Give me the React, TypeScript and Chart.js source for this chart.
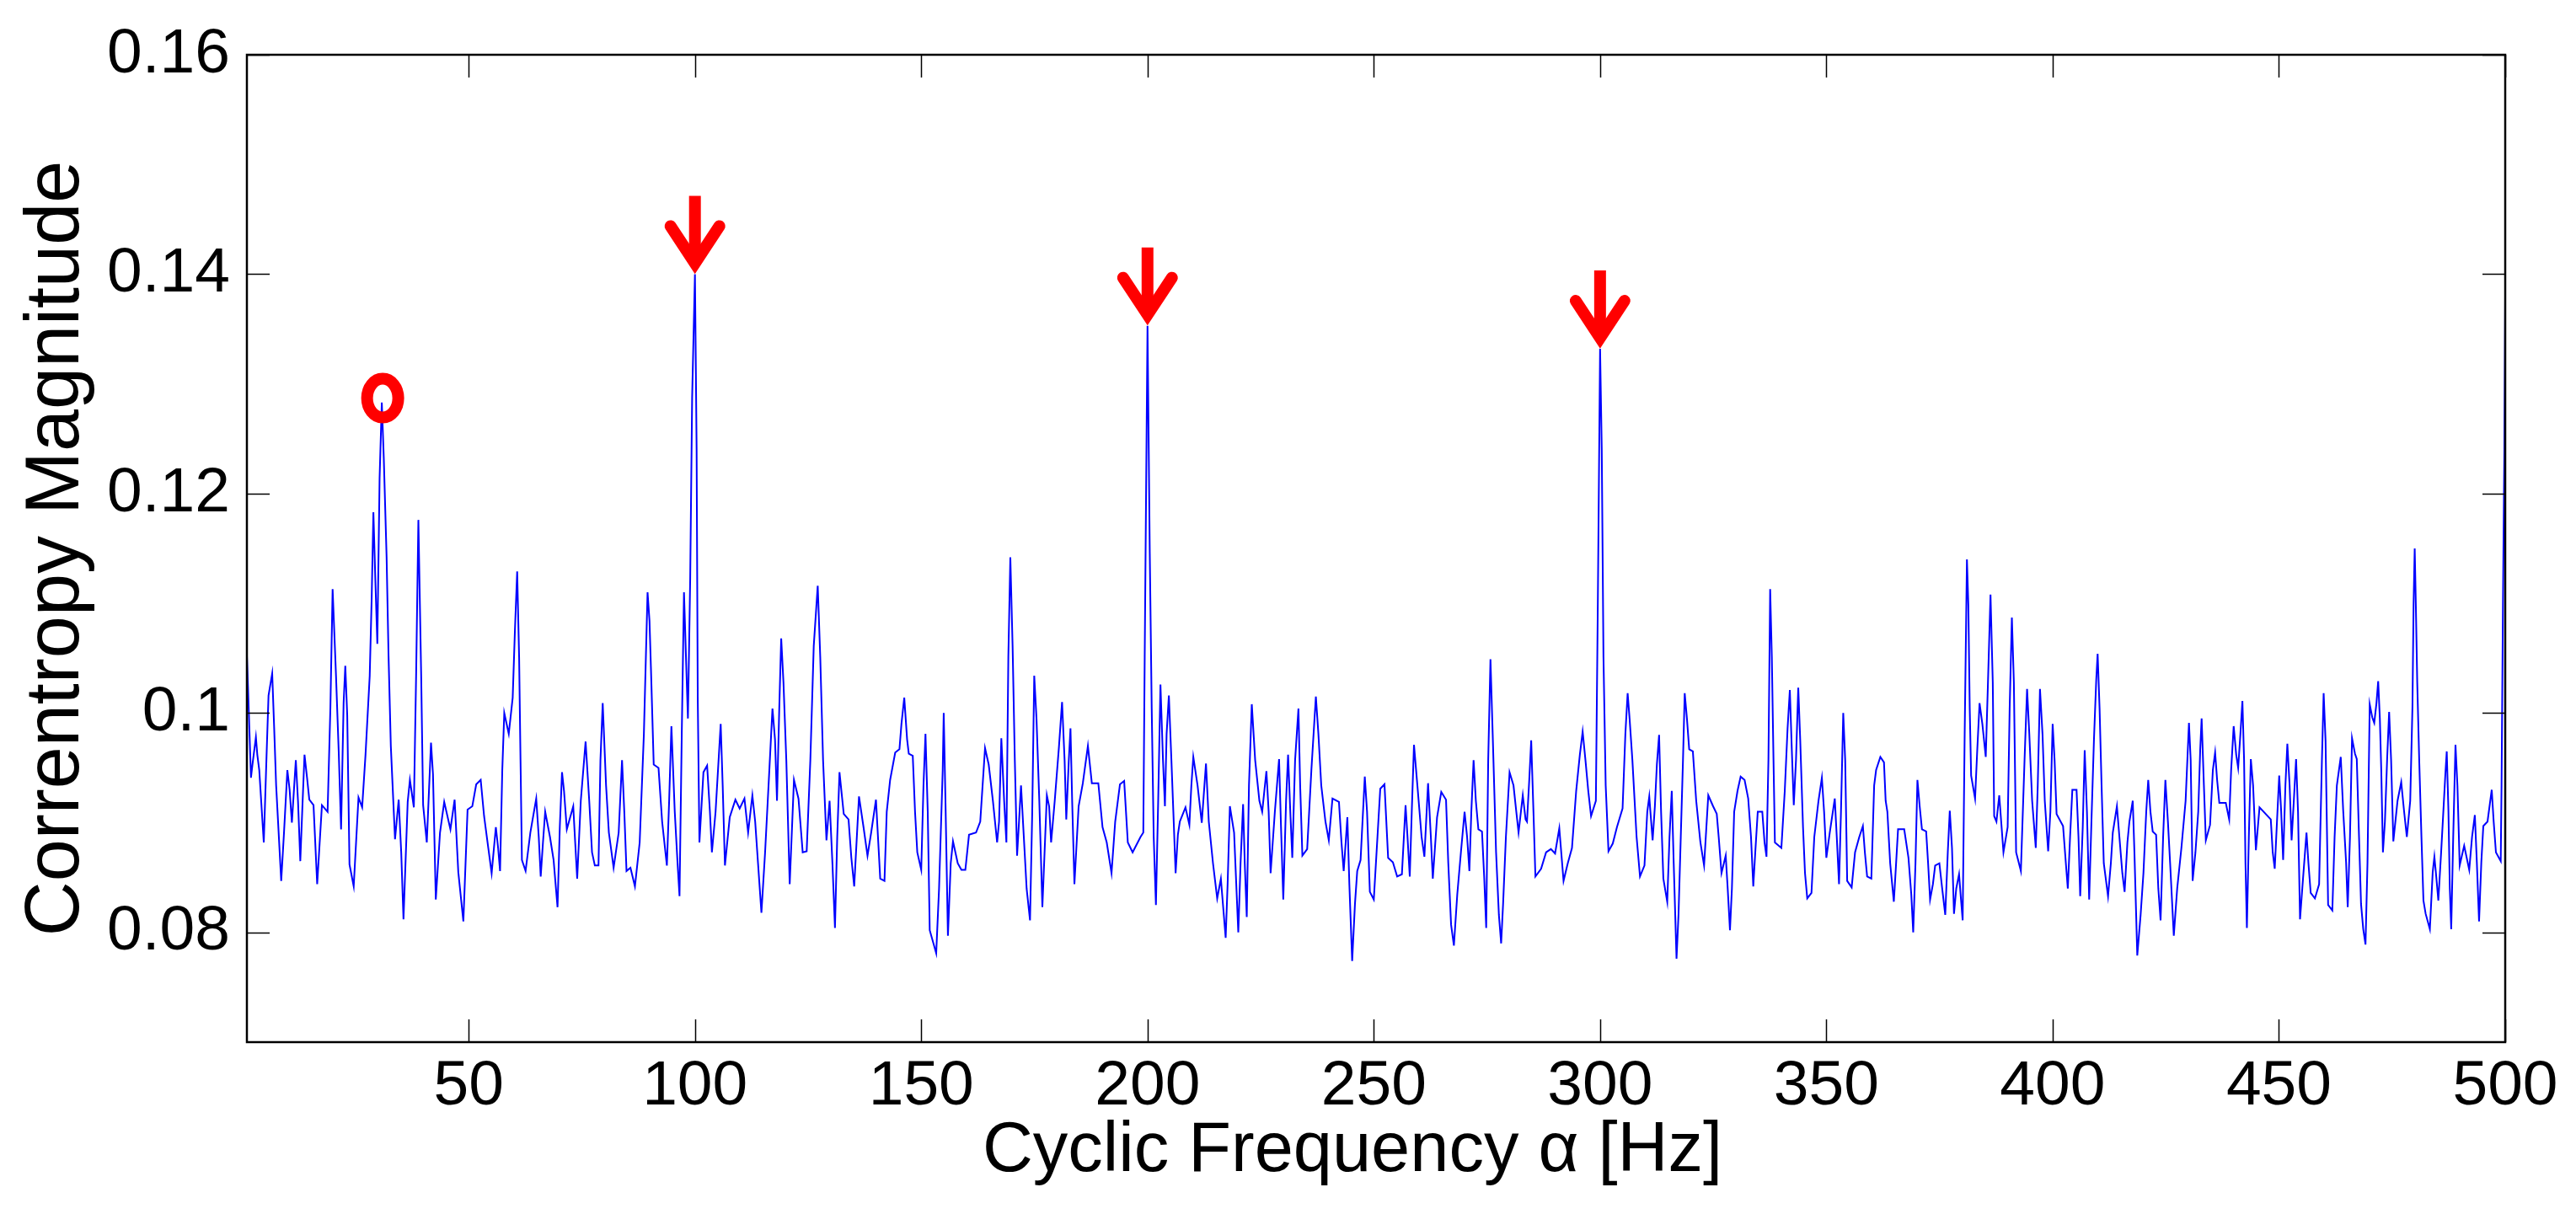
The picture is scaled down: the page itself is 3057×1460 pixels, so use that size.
import React, { useEffect, useRef } from "react";
import { Chart, registerables } from "chart.js";

Chart.register(...registerables);

// ---------------- data ----------------
const freqHz: number[] = [
  1.0, 1.25, 1.9, 2.2, 2.99, 3.3, 3.73, 4.73, 5.35, 5.78, 6.59, 7.02, 7.46, 8.58, 9.2, 9.94, 10.44, 10.94, 11.81, 12.3,
  12.8, 13.24, 13.73, 14.29, 14.79, 15.72, 16.53, 17.58, 18.83, 19.45, 19.94, 20.69, 21.31, 21.81, 22.37, 22.74, 23.17, 23.67, 24.6, 25.66,
  26.47, 27.21, 28.14, 28.58, 28.95, 29.39, 29.82, 30.32, 30.81, 31.25, 31.87, 32.3, 32.8, 33.73, 34.54, 35.1, 35.6, 36.53, 37.02, 37.89,
  38.39, 38.89, 39.51, 39.94, 40.75, 41.68, 42.12, 42.74, 43.67, 44.6, 45.97, 46.9, 47.71, 48.83, 49.76,
  50.81, 51.67, 52.66, 53.41, 54.34, 55.08, 56.01, 56.51, 56.94, 57.43, 57.87, 58.86, 59.73, 60.22, 60.72, 61.15, 61.46, 61.77, 62.58, 63.63,
  64.93, 65.49, 65.92, 66.42, 66.91, 67.97, 68.77, 69.21, 69.64, 70.14, 70.63, 71.07, 71.69, 73.11, 73.54, 73.98, 74.78, 75.84, 76.64, 77.26,
  77.88, 78.69, 79.12, 79.62, 80.36, 80.98, 82.03, 83.15, 83.89, 84.39, 84.88, 85.75, 86.74, 87.79, 88.72, 89.53, 89.96, 90.27, 90.89, 91.95,
  92.75, 93.8, 94.3, 94.8, 95.54, 96.16, 96.59, 97.09, 97.58, 98.02, 98.45, 98.95, 99.38, 100.0, 100.37, 100.62, 100.99,
  101.88, 102.69, 103.31, 103.75, 104.56, 105.69, 106.13, 106.63, 107.69, 108.94, 109.88, 110.94, 111.75, 112.69, 113.31, 113.94, 114.69, 115.5, 116.44, 117.13,
  117.69, 118.13, 118.63, 119.06, 119.56, 120.19, 120.94, 121.88, 122.88, 123.81, 124.69, 125.5, 126.25, 127.13, 127.69, 128.31, 129.06, 129.75, 130.38, 130.94,
  131.44, 131.94, 132.88, 133.94, 134.56, 135.19, 136.25, 137.25, 138.13, 138.94, 140.0, 140.94, 141.88, 142.38, 143.13, 144.25, 145.19, 145.63, 146.25, 146.88,
  147.25, 148.13, 148.63, 149.13, 150.0, 150.5, 150.94, 151.44, 151.88, 153.31, 153.94, 154.75,
  154.97, 155.4, 155.9, 156.52, 157.02, 158.07, 158.88, 159.75, 160.56, 162.11, 163.04, 164.1, 164.91, 165.84, 166.77, 167.2, 167.7, 168.32, 168.82, 169.25,
  169.69, 170.19, 170.68, 171.18, 171.61, 172.05, 172.67, 173.29, 174.04, 174.53, 174.97, 175.47, 176.09, 176.77, 177.76, 178.26, 178.7, 179.5, 180.43, 181.12,
  181.68, 182.05, 182.61, 182.98, 183.35, 183.85, 184.78, 185.71, 186.83, 187.7, 189.13, 190.06, 190.99, 192.05, 192.86, 193.91, 194.84, 195.65, 196.71, 198.45,
  199.07, 199.38, 200.0, 200.5, 200.93, 201.37, 201.86, 202.36, 202.86, 203.42, 203.85, 204.22, 204.72, 205.28, 205.71, 206.21, 206.71,
  207.14, 208.39, 209.25, 209.69, 210.12, 211.06, 211.99, 212.92, 213.54, 214.47, 215.4, 216.21, 217.27, 217.7, 218.2, 219.13, 220.06, 220.56, 221.12, 221.49,
  221.93, 222.42, 223.04, 223.79, 224.72, 225.34, 226.27, 226.77, 227.2, 228.14, 229.07, 229.5, 230.0, 230.62, 231.06, 231.55, 231.99, 232.61, 233.35, 233.73,
  234.22, 235.28, 236.21, 237.2, 237.76, 238.39, 239.32, 240.06, 240.87, 242.3, 242.86, 243.35, 243.79, 244.16, 244.6, 245.22, 245.84, 246.34, 247.08, 248.01,
  248.51, 249.13, 250.0, 250.81, 251.43, 252.36, 253.17, 254.22, 255.16, 256.21, 257.02, 257.45, 257.95, 258.39, 258.88,
  259.63, 260.56, 261.18, 261.99, 262.61, 263.04, 263.98, 264.91, 265.96, 266.46, 267.08, 267.7, 268.45, 269.25, 270.06, 270.62, 271.12, 271.55, 272.05, 272.55,
  273.11, 273.91, 274.41, 274.84, 275.28, 275.78, 276.27, 277.02, 277.64, 278.14, 278.57, 279.19, 280.0, 280.87, 281.49, 281.99, 282.92, 283.54, 283.85, 284.35,
  284.78, 285.28, 285.71, 286.96, 288.07, 289.13, 290.06, 290.99, 291.93, 292.86, 293.79, 294.72, 295.53, 296.15, 296.77, 297.39, 298.01, 299.07, 299.5, 300.0,
  300.37, 300.75, 301.24, 301.86, 302.8, 303.73, 304.97, 305.59, 306.09, 306.52, 307.14, 308.07, 308.82, 309.81, 310.43, 310.87,
  311.12, 311.61, 312.11, 312.55, 313.04, 313.48, 313.98, 314.84, 315.34, 315.84, 316.27, 316.89, 317.33, 317.83, 318.32, 318.7, 319.19, 319.69, 320.5, 321.24,
  322.17, 322.98, 323.91, 324.97, 325.78, 326.21, 326.83, 327.76, 328.2, 328.7, 329.13, 329.63, 330.37, 331.06, 331.93, 332.73, 333.35, 333.85, 334.29, 334.84,
  335.84, 336.34, 336.77, 337.2, 337.58, 337.95, 338.32, 338.63, 340.06, 340.81, 341.43, 341.93, 342.36, 342.8, 343.29, 343.79, 344.22, 344.84, 345.28, 345.78,
  346.71, 347.33, 348.26, 349.01, 349.5, 350.0, 350.75, 351.86, 352.3, 352.8, 353.23, 353.73, 354.16, 354.6, 355.59, 356.34, 357.27, 358.07, 358.51, 359.01,
  359.94, 360.56, 360.99, 361.93, 362.73,
  363.1, 363.48, 364.1, 364.91, 365.34, 365.84, 367.2, 368.14, 368.76, 369.19, 369.69, 370.12, 370.62, 371.12, 372.05, 372.48, 372.92, 373.54, 374.04, 374.97,
  375.59, 376.27, 376.83, 377.27, 377.76, 378.2, 378.7, 379.32, 379.75, 380.12, 380.56, 381.06, 381.37, 381.68, 381.99, 382.86, 383.35, 383.85, 384.47, 385.22,
  385.71, 386.27, 386.77, 387.08, 387.58, 388.2, 388.63, 389.13, 390.06, 390.5, 390.99, 391.43, 391.93, 392.98, 393.79, 394.35, 394.84, 395.47, 396.27, 396.71,
  397.2, 397.76, 398.26, 399.01, 399.5, 400.0, 400.43, 400.87, 402.3, 402.92, 403.35, 403.85, 404.35, 405.28, 405.71, 406.09, 406.65, 407.08, 407.58, 408.07,
  408.57, 409.13, 409.63, 409.94, 410.37, 410.81, 411.3, 412.24, 412.86, 413.29, 414.2,
  414.75, 415.4, 415.9, 416.52, 416.96, 417.7, 418.07, 418.7, 419.44, 420.06, 420.68, 421.12, 421.61, 422.11, 422.86, 423.35, 423.85, 424.41, 424.91, 425.47,
  425.96, 426.77, 427.52, 428.45, 429.38, 430.12, 430.5, 430.93, 431.55, 432.17, 432.61, 432.92, 433.42, 433.85, 434.78, 435.4, 435.9, 436.34, 436.83, 438.26,
  439.01, 439.44, 440.0, 440.56, 440.99, 441.49, 441.93, 442.3, 442.61, 442.92, 443.35, 443.79, 444.29, 444.91, 445.71, 448.2, 448.63, 449.07, 449.57, 450.06,
  450.5, 450.93, 451.43, 451.86, 452.36, 452.8, 453.29, 453.79, 454.22, 454.66, 455.16, 456.09, 456.52, 457.02, 457.95, 458.88, 459.5, 459.88, 460.3, 460.87,
  461.8, 462.3, 462.8, 463.66, 464.2, 464.84, 465.2, 465.7, 466.15, 466.8, 467.2, 467.7, 468.14, 468.63, 469.13, 469.57, 470.06, 470.62, 471.06, 471.55,
  471.93, 472.3, 472.61, 472.98, 473.42, 473.91, 474.35, 474.78, 475.28, 476.21, 477.02, 477.64, 478.26, 479.01, 479.5, 479.75, 480.0, 480.25, 480.56, 480.99,
  481.49, 481.93, 482.42, 483.35, 483.98, 484.35, 484.78, 485.22, 485.84, 486.34, 486.77, 487.08, 487.45, 487.76, 488.07, 488.51, 489.01, 489.44, 489.94, 490.93,
  492.05, 492.67, 493.29, 493.73, 494.22, 494.72, 495.16, 496.09, 497.02, 497.45, 497.95, 499.01, 499.19, 499.5, 499.81, 500.0, 500.4,
];

const magnitude: number[] = [
  0.1052, 0.1023, 0.0941, 0.0952, 0.0978, 0.0962, 0.0948, 0.0882, 0.0962, 0.1016, 0.1036, 0.0987, 0.0934, 0.0847, 0.0891, 0.0948, 0.093, 0.09, 0.0957, 0.0919,
  0.0865, 0.0912, 0.0962, 0.0941, 0.0921, 0.0916, 0.0844, 0.0916, 0.091, 0.1005, 0.1113, 0.1034, 0.0962, 0.0894, 0.1009, 0.1043, 0.0998, 0.0862, 0.0842, 0.0923,
  0.0914, 0.0962, 0.1034, 0.1106, 0.1183, 0.112, 0.1063, 0.1214, 0.1283, 0.1232, 0.1142, 0.1052, 0.097, 0.0885, 0.0921, 0.0873, 0.0812, 0.0919, 0.0939, 0.0914,
  0.1034, 0.1176, 0.1034, 0.0916, 0.0882, 0.0973, 0.0944, 0.083, 0.0891, 0.0919, 0.0894, 0.0921, 0.0855, 0.081, 0.0912,
  0.0915, 0.0935, 0.0939, 0.0906, 0.0877, 0.0854, 0.0896, 0.0877, 0.0856, 0.0948, 0.1, 0.0981, 0.1014, 0.1075, 0.1129, 0.1051, 0.0957, 0.0866, 0.0856, 0.0891,
  0.0922, 0.0887, 0.0851, 0.0882, 0.091, 0.0887, 0.0866, 0.0844, 0.0823, 0.0896, 0.0946, 0.0929, 0.0894, 0.0915, 0.0882, 0.0849, 0.092, 0.0974, 0.092, 0.0873,
  0.0861, 0.0861, 0.0957, 0.1009, 0.0934, 0.0891, 0.0859, 0.0891, 0.0957, 0.091, 0.0856, 0.0859, 0.0842, 0.0882, 0.0981, 0.111, 0.1084, 0.1042, 0.0953, 0.095,
  0.0901, 0.0861, 0.092, 0.0988, 0.091, 0.0863, 0.0833, 0.0981, 0.111, 0.1051, 0.0995, 0.1122, 0.1287, 0.14, 0.124, 0.1014, 0.0882,
  0.0946, 0.0952, 0.091, 0.0873, 0.091, 0.099, 0.0934, 0.0861, 0.0905, 0.0921, 0.0913, 0.0922, 0.0891, 0.0925, 0.0901, 0.0863, 0.0818, 0.0873, 0.0948, 0.1004,
  0.0976, 0.092, 0.1004, 0.1068, 0.1028, 0.0957, 0.0844, 0.0939, 0.0922, 0.0873, 0.0874, 0.0957, 0.1061, 0.1116, 0.1051, 0.0957, 0.0884, 0.092, 0.0863, 0.0804,
  0.0887, 0.0946, 0.0908, 0.0903, 0.0868, 0.0842, 0.0924, 0.0896, 0.087, 0.0891, 0.0921, 0.0849, 0.0847, 0.091, 0.0939, 0.0964, 0.0967, 0.099, 0.1014, 0.0976,
  0.0963, 0.0961, 0.091, 0.0873, 0.0857, 0.0934, 0.0981, 0.091, 0.0802, 0.0781, 0.084, 0.0948,
  0.1, 0.091, 0.0797, 0.0863, 0.0883, 0.0863, 0.0857, 0.0857, 0.0889, 0.0891, 0.0901, 0.0968, 0.0953, 0.092, 0.0882, 0.0901, 0.0977, 0.092, 0.0882, 0.1051,
  0.1142, 0.1061, 0.0957, 0.087, 0.0901, 0.0934, 0.0887, 0.084, 0.0811, 0.091, 0.1034, 0.0995, 0.092, 0.0823, 0.0925, 0.0915, 0.0882, 0.092, 0.0969, 0.101,
  0.0957, 0.0903, 0.0957, 0.0986, 0.092, 0.0844, 0.0915, 0.0936, 0.097, 0.0936, 0.0936, 0.0896, 0.0882, 0.0854, 0.0901, 0.0935, 0.0938, 0.0882, 0.0873, 0.0887,
  0.0891, 0.1051, 0.1353, 0.1146, 0.1004, 0.0887, 0.0825, 0.092, 0.1026, 0.0957, 0.0915, 0.0981, 0.1016, 0.0957, 0.091, 0.0854, 0.0889,
  0.0901, 0.0914, 0.0898, 0.0934, 0.096, 0.0934, 0.09, 0.0954, 0.0901, 0.0863, 0.0831, 0.0849, 0.0795, 0.0844, 0.0915, 0.0891, 0.08, 0.0863, 0.0917, 0.0863,
  0.0814, 0.0934, 0.1008, 0.0957, 0.092, 0.091, 0.0947, 0.091, 0.0854, 0.091, 0.0958, 0.0896, 0.083, 0.092, 0.0962, 0.091, 0.0868, 0.0957, 0.1004, 0.0934,
  0.087, 0.0876, 0.0948, 0.1015, 0.0981, 0.0934, 0.0901, 0.0884, 0.0922, 0.0919, 0.0882, 0.0856, 0.0882, 0.0905, 0.0844, 0.0774, 0.0826, 0.0856, 0.0866, 0.0942,
  0.091, 0.0837, 0.083, 0.0887, 0.0931, 0.0935, 0.0868, 0.0864, 0.0851, 0.0853, 0.0916, 0.0887, 0.0851, 0.091, 0.0971,
  0.0934, 0.0887, 0.0869, 0.0936, 0.0887, 0.0849, 0.0905, 0.0928, 0.0921, 0.0863, 0.0807, 0.0788, 0.0835, 0.0873, 0.091, 0.0887, 0.0856, 0.091, 0.0957, 0.092,
  0.0894, 0.0892, 0.0849, 0.0804, 0.0957, 0.1049, 0.0981, 0.0873, 0.0816, 0.079, 0.0826, 0.0887, 0.0946, 0.0934, 0.091, 0.0891, 0.0925, 0.0903, 0.0901, 0.0939,
  0.0975, 0.091, 0.0851, 0.0858, 0.0873, 0.0876, 0.0872, 0.0895, 0.0847, 0.0863, 0.0877, 0.0929, 0.0962, 0.0983, 0.0957, 0.0929, 0.0906, 0.092, 0.1099, 0.1332,
  0.124, 0.1051, 0.0934, 0.0874, 0.0881, 0.0896, 0.0913, 0.0981, 0.1018, 0.0995, 0.0957, 0.0887, 0.0851, 0.0861, 0.091, 0.0924,
  0.091, 0.0884, 0.0915, 0.0953, 0.098, 0.091, 0.0849, 0.0828, 0.0887, 0.0929, 0.0863, 0.0776, 0.0816, 0.0887, 0.0957, 0.1018, 0.0995, 0.0967, 0.0965, 0.092,
  0.0882, 0.0861, 0.0925, 0.0915, 0.0908, 0.0887, 0.0854, 0.087, 0.084, 0.0802, 0.084, 0.091, 0.0929, 0.0942, 0.0939, 0.0922, 0.0887, 0.0842, 0.0873, 0.091,
  0.091, 0.0882, 0.0869, 0.0957, 0.1113, 0.1051, 0.0957, 0.0882, 0.0877, 0.0929, 0.0986, 0.1021, 0.0967, 0.0916, 0.0957, 0.1023, 0.0976, 0.0896, 0.0854, 0.0831,
  0.0836, 0.0887, 0.092, 0.0941, 0.091, 0.0868, 0.0891, 0.0922, 0.0887, 0.0844, 0.091, 0.1, 0.0957, 0.0847, 0.0841, 0.0873, 0.0887, 0.0897, 0.0873, 0.0851,
  0.0849, 0.0934, 0.0948, 0.096, 0.0955,
  0.092, 0.091, 0.0863, 0.0828, 0.0858, 0.0894, 0.0894, 0.0868, 0.0835, 0.08, 0.0863, 0.0939, 0.0915, 0.0894, 0.0892, 0.0863, 0.083, 0.0844, 0.0861, 0.0863,
  0.084, 0.0816, 0.0873, 0.0911, 0.0877, 0.0817, 0.084, 0.0853, 0.083, 0.0811, 0.0981, 0.114, 0.1099, 0.1004, 0.0943, 0.0922, 0.0967, 0.1009, 0.099, 0.096,
  0.1028, 0.1108, 0.1028, 0.0906, 0.0901, 0.0925, 0.0901, 0.0873, 0.0896, 0.1004, 0.1087, 0.1028, 0.0873, 0.0856, 0.0957, 0.1022, 0.0981, 0.092, 0.0877, 0.0934,
  0.1022, 0.0981, 0.092, 0.0874, 0.091, 0.099, 0.0957, 0.0908, 0.0897, 0.0863, 0.084, 0.0887, 0.093, 0.093, 0.0887, 0.0833, 0.0896, 0.0966, 0.091, 0.083,
  0.0901, 0.0976, 0.103, 0.1054, 0.1004, 0.0934, 0.0863, 0.0833, 0.0863, 0.0891, 0.0915,
  0.0887, 0.0854, 0.0837, 0.0882, 0.0901, 0.092, 0.0873, 0.0779, 0.0816, 0.0854, 0.091, 0.0939, 0.091, 0.0892, 0.0889, 0.084, 0.0811, 0.0887, 0.0939, 0.0901,
  0.0863, 0.0797, 0.084, 0.0877, 0.092, 0.0991, 0.0957, 0.0847, 0.0873, 0.091, 0.0967, 0.0995, 0.0934, 0.0884, 0.0898, 0.0948, 0.0964, 0.0939, 0.0918, 0.0918,
  0.0903, 0.0948, 0.0988, 0.0962, 0.095, 0.0981, 0.1011, 0.0957, 0.0863, 0.0804, 0.0887, 0.0958, 0.0934, 0.0875, 0.0914, 0.0903, 0.0873, 0.0858, 0.0901, 0.0943,
  0.091, 0.0866, 0.0934, 0.0972, 0.0934, 0.0884, 0.092, 0.0958, 0.091, 0.0812, 0.084, 0.0891, 0.0863, 0.0836, 0.0831, 0.0844, 0.0957, 0.1018, 0.0975, 0.0825,
  0.082, 0.0887, 0.0934, 0.096, 0.0911, 0.0864, 0.0823, 0.0887, 0.0977, 0.0963, 0.0958, 0.0887, 0.0826, 0.0803, 0.0789, 0.0864, 0.1008, 0.0996, 0.0991, 0.1009,
  0.1029, 0.0995, 0.0948, 0.0873, 0.0901, 0.0958, 0.1001, 0.0958, 0.0883, 0.092, 0.0937, 0.0911, 0.0887, 0.092, 0.1005, 0.1099, 0.115, 0.1099, 0.1028, 0.0958,
  0.0887, 0.0829, 0.0817, 0.0803, 0.0855, 0.0869, 0.085, 0.0829, 0.0873, 0.0911, 0.0944, 0.0965, 0.0911, 0.084, 0.0803, 0.0887, 0.0971, 0.0934, 0.0861, 0.0879,
  0.0857, 0.0887, 0.0907, 0.0864, 0.081, 0.0864, 0.0897, 0.0901, 0.093, 0.0901, 0.0873, 0.0865, 0.0934, 0.1099, 0.1239, 0.138, 0.1134,
];

const xTickValues: number[] = [50, 100, 150, 200, 250, 300, 350, 400, 450, 500];
const xTickLabels: string[] = ["50", "100", "150", "200", "250", "300", "350", "400", "450", "500"];
const yTickValues: number[] = [0.08, 0.1, 0.12, 0.14, 0.16];
const yTickLabels: string[] = ["0.08", "0.1", "0.12", "0.14", "0.16"];

// red markers: arrows over the harmonic peaks, a circle over the first peak
const arrowFreqs: number[] = [100, 200, 300];
const arrowMags: number[] = [0.14, 0.1353, 0.1332];
const circleFreqs: number[] = [31.0];
const circleMags: number[] = [0.1287];

const X_TITLE = "Cyclic Frequency \u03B1 [Hz]";
const Y_TITLE = "Correntropy Magnitude";

// ---------------- layout constants ----------------
const W = 3057;
const H = 1460;
const PLOT_LEFT = 293;
const PLOT_RIGHT = 2973;
const PLOT_TOP = 54;
const PLOT_BOTTOM = 1237;
const FONT = "'Liberation Sans', Arial, Helvetica, sans-serif";
const TICK_LEN = 27;
const X_TITLE_SHIFT = -28; // MATLAB label sits slightly left of the axes centre

const markPlugin = {
  id: "markPlugin",
  afterDatasetsDraw(chart: any) {
    const { ctx, scales } = chart;
    const xs = scales.x;
    const ys = scales.y;
    ctx.save();
    ctx.strokeStyle = "#FF0000";
    ctx.fillStyle = "#FF0000";
    arrowFreqs.forEach((f, i) => {
      const px = xs.getPixelForValue(f);
      const py = ys.getPixelForValue(arrowMags[i]);
      const w = 14;
      ctx.lineCap = "butt";
      ctx.lineWidth = w;
      ctx.beginPath();
      ctx.moveTo(px, py - 93);
      ctx.lineTo(px, py - 16);
      ctx.stroke();
      ctx.lineJoin = "miter";
      ctx.miterLimit = 10;
      ctx.lineCap = "round";
      ctx.beginPath();
      ctx.moveTo(px - 29, py - 57);
      ctx.lineTo(px, py - 13);
      ctx.lineTo(px + 29, py - 57);
      ctx.stroke();
    });
    circleFreqs.forEach((f, i) => {
      const px = xs.getPixelForValue(f);
      const py = ys.getPixelForValue(circleMags[i]);
      ctx.lineWidth = 14;
      ctx.beginPath();
      ctx.ellipse(px, py, 18.5, 23, 0, 0, Math.PI * 2);
      ctx.stroke();
    });
    ctx.restore();
  },
  afterDraw(chart: any) {
    const { ctx, chartArea, scales } = chart;
    const { left, right, top, bottom } = chartArea;
    const xs = scales.x;
    const ys = scales.y;
    ctx.save();
    ctx.strokeStyle = "#000000";
    ctx.lineWidth = 1.5;
    ctx.beginPath();
    xTickValues.forEach((v) => {
      const px = Math.round(xs.getPixelForValue(v)) + 0.5;
      ctx.moveTo(px, bottom);
      ctx.lineTo(px, bottom - TICK_LEN);
      ctx.moveTo(px, top);
      ctx.lineTo(px, top + TICK_LEN);
    });
    yTickValues.forEach((v) => {
      const py = Math.round(ys.getPixelForValue(v)) + 0.5;
      ctx.moveTo(left, py);
      ctx.lineTo(left + TICK_LEN, py);
      ctx.moveTo(right, py);
      ctx.lineTo(right - TICK_LEN, py);
    });
    ctx.stroke();
    ctx.lineWidth = 2.5;
    ctx.strokeRect(left, top, right - left, bottom - top);
    ctx.restore();
  },
};

// shifts the x-axis title horizontally by translating the canvas while the x scale draws
const xTitleShiftPlugin = {
  id: "xTitleShift",
  beforeDraw() {},
};

export default function App() {
  const canvasRef = useRef<HTMLCanvasElement | null>(null);

  useEffect(() => {
    if (!canvasRef.current) return;
    const points = freqHz.map((f, i) => ({ x: f, y: magnitude[i] }));
    const chart = new Chart(canvasRef.current, {
      type: "line",
      data: {
        datasets: [
          {
            data: points,
            borderColor: "#0000FF",
            borderWidth: 2,
            pointRadius: 0,
            tension: 0,
            fill: false,
            clip: { left: 0, top: 0, right: 6, bottom: 0 } as any,
          },
        ],
      },
      options: {
        animation: false,
        responsive: false,
        maintainAspectRatio: false,
        devicePixelRatio: 1,
        layout: {
          padding: { left: 0, top: PLOT_TOP, right: W - PLOT_RIGHT, bottom: 0 },
        },
        plugins: {
          legend: { display: false },
          tooltip: { enabled: false },
          title: { display: false },
        },
        scales: {
          x: {
            type: "linear",
            position: "bottom",
            min: 1,
            max: 500,
            grid: { display: false, drawTicks: false },
            border: { display: false },
            ticks: {
              color: "#000000",
              font: { family: FONT, size: 75 },
              padding: 8,
              maxRotation: 0,
              minRotation: 0,
              autoSkip: false,
              callback: (v: any) => {
                const idx = xTickValues.indexOf(Number(v));
                return idx >= 0 ? xTickLabels[idx] : "";
              },
            },
            title: {
              display: false,
              text: X_TITLE,
            },
            afterBuildTicks: (scale: any) => {
              scale.ticks = xTickValues.map((value) => ({ value }));
            },
            afterFit: (scale: any) => {
              scale.height = H - PLOT_BOTTOM;
            },
          },
          y: {
            type: "linear",
            position: "left",
            min: 0.07,
            max: 0.16,
            grid: { display: false, drawTicks: false },
            border: { display: false },
            ticks: {
              color: "#000000",
              font: { family: FONT, size: 75 },
              padding: 20,
              autoSkip: false,
              callback: (v: any) => {
                const idx = yTickValues.findIndex((t) => Math.abs(t - Number(v)) < 1e-9);
                return idx >= 0 ? yTickLabels[idx] : "";
              },
            },
            title: {
              display: true,
              text: Y_TITLE,
              color: "#000000",
              font: { family: FONT, size: 90 },
              padding: { top: 14, bottom: 0 },
            },
            afterBuildTicks: (scale: any) => {
              scale.ticks = yTickValues.map((value) => ({ value }));
            },
            afterFit: (scale: any) => {
              scale.width = PLOT_LEFT;
            },
          },
        },
      },
      plugins: [
        markPlugin,
        xTitleShiftPlugin,
        {
          id: "xAxisTitle",
          afterDraw(c: any) {
            // x-axis title, placed under the x scale like a MATLAB xlabel
            const { ctx, chartArea } = c;
            ctx.save();
            ctx.fillStyle = "#000000";
            ctx.font = `83px ${FONT}`;
            ctx.textAlign = "center";
            ctx.textBaseline = "middle";
            ctx.fillText(X_TITLE, (chartArea.left + chartArea.right) / 2 + X_TITLE_SHIFT, 1367);
            ctx.restore();
          },
        },
      ],
    });
    return () => chart.destroy();
  }, []);

  return (
    <div
      style={{
        position: "absolute",
        left: 0,
        top: 0,
        width: W,
        height: H,
        background: "#ffffff",
        overflow: "hidden",
      }}
    >
      <canvas
        ref={canvasRef}
        width={W}
        height={H}
        style={{ display: "block", width: W, height: H }}
      />
    </div>
  );
}
